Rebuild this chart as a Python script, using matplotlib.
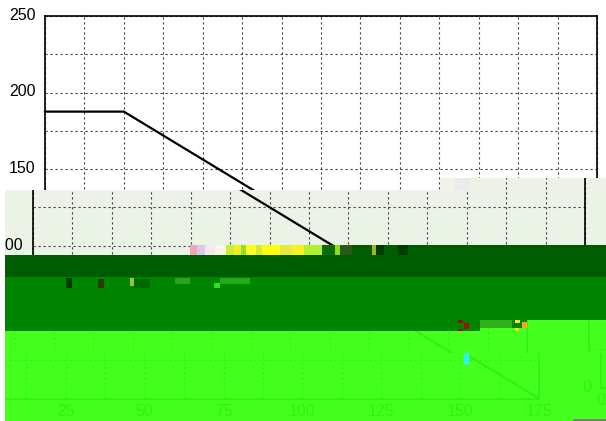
"""Load line on a dashed grid, redrawn with the damaged bands of the source image."""

import matplotlib
matplotlib.use('Agg')
import matplotlib.pyplot as plt
from matplotlib.patches import Rectangle
from matplotlib.text import Text
from matplotlib.transforms import Bbox, ScaledTranslation, TransformedBbox

# Chart values
LINE_X = [0, 25, 175]
LINE_Y = [187.5, 187.5, 0]
X_GRID = [12.5 * i for i in range(15)]
Y_GRID = [25 * i for i in range(11)]
X_LABELS = ['0', '', '25', '', '50', '', '75', '', '100', '', '125', '', '150', '', '175']
Y_LABELS = ['0', '', '50', '', '100', '', '150', '', '200', '', '250']

W, H = 606, 421
PLOT_BOX = (45, 16, 597, 398.5)

WHITE = '#ffffff'
TINT = '#ebf2e6'
DARK = '#005c00'
MID = '#008500'
BRIGHT = '#45ff1c'
BRIGHT_INK = '#33f014'

# Image slices: x0, y0, x1, y1, dx, dy, background, ink, grid colour
SLICES = [
    (0, 0, 606, 190, 0, 0, WHITE, 'black', '#444444'),
    (5, 190, 606, 245, -12, 0, TINT, 'black', '#444444'),
    (5, 245, 190, 255, -12, 0, TINT, 'black', '#444444'),
    (468, 178, 606, 190, -12, 0, TINT, 'black', '#444444'),
    (5, 331, 480, 353, -70, 0, BRIGHT, BRIGHT_INK, BRIGHT_INK),
    (480, 328, 540, 353, -70, 0, BRIGHT, BRIGHT_INK, BRIGHT_INK),
    (527, 320, 540, 331, -70, 0, BRIGHT, BRIGHT_INK, BRIGHT_INK),
    (5, 353, 540, 400, -58, 0, BRIGHT, BRIGHT_INK, BRIGHT_INK),
    (5, 400, 565, 421, -58, 0, BRIGHT, BRIGHT_INK, BRIGHT_INK),
    (540, 320, 606, 353, 544, -11, BRIGHT, BRIGHT_INK, BRIGHT_INK),
    (540, 353, 606, 400, 556, -11, BRIGHT, BRIGHT_INK, BRIGHT_INK),
    (565, 400, 606, 421, 556, -11, BRIGHT, BRIGHT_INK, BRIGHT_INK),
]

# Flat bands with no chart showing through
BANDS = [
    (330, 245, 606, 255, DARK),
    (5, 255, 606, 277, DARK),
    (5, 277, 606, 331, MID),
    (530, 320, 606, 331, BRIGHT),
]

# Leftover colour blocks from the damage
BLOCKS = [
    (190, 245, 197, 255, '#f0a4b4'), (197, 245, 205, 255, '#d8c8ee'),
    (205, 245, 215, 255, '#f6e6f2'), (215, 245, 226, 255, '#fff4ea'),
    (226, 245, 234, 255, '#c8f030'), (234, 245, 241, 255, '#f4f020'),
    (241, 245, 246, 255, '#90e030'), (246, 245, 256, 255, '#ffff20'),
    (256, 245, 262, 255, '#d8e838'), (262, 245, 280, 255, '#ffff10'),
    (280, 245, 292, 255, '#e8e840'), (292, 245, 304, 255, '#f8f020'),
    (304, 245, 322, 255, '#b0f030'), (322, 245, 335, 255, '#0c6a08'),
    (335, 245, 340, 255, '#88e020'), (340, 245, 352, 255, '#2a5a1a'),
    (372, 245, 376, 255, '#a8b020'), (376, 245, 384, 255, '#003c00'),
    (398, 245, 408, 255, '#003c00'),
    (440, 178, 455, 190, '#f2f2ea'), (455, 178, 468, 190, '#e8ecea'),
    (66, 278, 72, 288, '#003c00'), (98, 279, 104, 288, '#2a3a00'),
    (130, 278, 134, 286, '#a0c040'), (134, 279, 150, 288, '#006800'),
    (175, 278, 190, 284, '#30a020'), (214, 283, 220, 288, '#30e020'),
    (220, 278, 250, 284, '#28a818'),
    (458, 320, 463, 323, '#b00010'), (458, 329, 463, 331, '#b00010'),
    (464, 323, 469, 329, '#a01010'), (480, 320, 512, 328, '#30b018'),
    (515, 320, 520, 323, '#ffe020'), (515, 328, 519, 331, '#ffd820'),
    (522, 322, 527, 328, '#ffa020'),
    (464, 353, 469, 365, '#30f0f0'),
    (573, 419, 606, 421, '#808080'),
]


def add_rect(fig, x0, y0, x1, y1, color, zorder):
    fig.add_artist(Rectangle((x0 / W, 1 - y1 / H), (x1 - x0) / W, (y1 - y0) / H,
                             facecolor=color, edgecolor='none', zorder=zorder))


def draw_slice(fig, x0, y0, x1, y1, dx, dy, bg, ink, grid_color, zorder):
    """Draw the whole chart moved by dx, dy but show it only inside one image slice."""
    add_rect(fig, x0, y0, x1, y1, bg, zorder)

    left, top, right, bottom = PLOT_BOX
    ax = fig.add_axes([(left + dx) / W, 1 - (bottom + dy) / H,
                       (right - left) / W, (bottom - top) / H], zorder=zorder + 0.5)
    ax.patch.set_visible(False)
    ax.plot(LINE_X, LINE_Y, color=ink, linewidth=1.6, solid_joinstyle='miter')
    ax.set_xlim(0, 175)
    ax.set_ylim(0, 250)
    ax.set_xticks(X_GRID)
    ax.set_xticklabels(X_LABELS)
    ax.set_yticks(Y_GRID)
    ax.set_yticklabels(Y_LABELS)
    ax.tick_params(length=0, labelsize=11.5, colors=ink)
    ax.tick_params(axis='x', pad=5)
    ax.tick_params(axis='y', pad=7)
    ax.grid(True, color=grid_color, linestyle=(0, (2, 2.5)), linewidth=0.8)
    for spine in ax.spines.values():
        spine.set_color(ink)
        spine.set_linewidth(1.2)

    # the source labels sit a little above their gridlines
    nudge_y = ScaledTranslation(0, 2 / 100, fig.dpi_scale_trans)
    nudge_x = ScaledTranslation(0, 1.5 / 100, fig.dpi_scale_trans)
    for label in ax.get_yticklabels():
        label.set_transform(label.get_transform() + nudge_y)
    for label in ax.get_xticklabels():
        label.set_transform(label.get_transform() + nudge_x)

    # clip everything in the axes, labels and spines too, to this slice
    box = Bbox.from_extents(x0 / W, 1 - y1 / H, x1 / W, 1 - y0 / H)
    clip = TransformedBbox(box, fig.transFigure)
    for artist in ax.findobj():
        if artist is not ax and artist is not fig:
            artist.set_clip_on(True)
            artist.set_clip_box(clip)

    # labels that fall outside the slice never show, so drop them
    renderer = fig.canvas.get_renderer()
    for label in ax.findobj(Text):
        extent = label.get_window_extent(renderer)
        if not label.get_text() or not extent.overlaps(clip):
            label.set_visible(False)


def main():
    plt.rcParams['font.family'] = ['Liberation Sans', 'DejaVu Sans']
    fig = plt.figure(figsize=(W / 100, H / 100), dpi=100, facecolor='white')

    for x0, y0, x1, y1, color in BANDS:
        add_rect(fig, x0, y0, x1, y1, color, 1)

    for i, (x0, y0, x1, y1, dx, dy, bg, ink, grid_color) in enumerate(SLICES):
        draw_slice(fig, x0, y0, x1, y1, dx, dy, bg, ink, grid_color, 2 + i)

    for x0, y0, x1, y1, color in BLOCKS:
        add_rect(fig, x0, y0, x1, y1, color, 50)

    fig.savefig('out.png', dpi=100)
    plt.close(fig)


if __name__ == '__main__':
    main()
